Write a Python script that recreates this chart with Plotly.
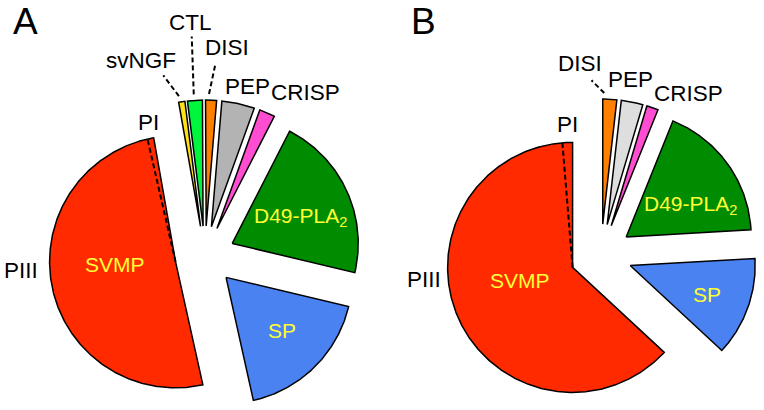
import numpy as np
import plotly.graph_objects as go

# ---------------- data ----------------
cats_A = ["svNGF", "CTL", "DISI", "PEP", "CRISP", "D49-PLA2", "SP", "PIII", "PI"]
vals_A = [0.8, 1.9, 1.4, 4.2, 2.0, 21.2, 17.8, 49.9, 0.8]
fam_A = ["svNGF", "CTL", "DISI", "PEP", "CRISP", "D49-PLA2", "SP", "SVMP", "SVMP"]

cats_B = ["DISI", "PEP", "CRISP", "D49-PLA2", "SP", "PIII", "PI"]
vals_B = [1.8, 2.8, 1.5, 18.0, 12.8, 61.8, 1.3]
fam_B = ["DISI", "PEP", "CRISP", "D49-PLA2", "SP", "SVMP", "SVMP"]

# ---------------- style ----------------
W, H = 764, 410
COL = {"svNGF": "#ffe11a", "CTL": "#00f53d", "DISI": "#ff8000", "PEP": "#b3b3b3",
       "CRISP": "#ff4dd2", "D49-PLA2": "#008c00", "SP": "#4a82f2", "SVMP": "#ff2a00"}
COL_B = dict(COL, PEP="#dedede")
TXT_IN = "#ffff33"
FONT = "Liberation Sans, Arial, Helvetica, sans-serif"

panels = [
    dict(cats=cats_A, vals=vals_A, fam=fam_A, col=COL, cx=205, cy=H - 256, r=126,
         pull=30, start=-10.0, letter="A", letter_xy=(25, H - 21),
         leaders={"svNGF": (0.2, -37, 26), "CTL": (0.45, -2, 58), "DISI": (0.3, 12, 30)},
         lab={"svNGF": (-64, 196), "CTL": (-15, 234), "DISI": (22, 209), "PEP": (42, 170),
              "CRISP": (100, 164), "PI": (-57, 134), "PIII": (-184, -14)},
         inner={"SVMP": (-90, -8), "D49-PLA2": (95, 39), "SP": (77, -74)}),
    dict(cats=cats_B, vals=vals_B, fam=fam_B, col=COL_B, cx=601, cy=H - 255, r=125,
         pull=31, start=0.0, letter="B", letter_xy=(423, H - 21),
         leaders={"DISI": (0.1, -45, 18)},
         lab={"DISI": (-21, 192), "PEP": (29, 176), "CRISP": (87, 162),
              "PI": (-34, 131), "PIII": (-177, -24)},
         inner={"SVMP": (-81, -25), "D49-PLA2": (89, 50), "SP": (106, -39)}),
]


def pt(x0, y0, ang, rad):
    a = np.radians(ang)
    return x0 + rad * np.sin(a), y0 + rad * np.cos(a)


fig = go.Figure()
annotations = []

for p in panels:
    vals = np.array(p["vals"], dtype=float)
    degs = vals / vals.sum() * 360.0
    edges = p["start"] + np.concatenate([[0], np.cumsum(degs)])
    groups = []
    for i, f in enumerate(p["fam"]):
        if groups and groups[-1]["fam"] == f:
            groups[-1]["idx"].append(i)
        else:
            groups.append({"fam": f, "idx": [i]})
    for g in groups:
        a0 = edges[g["idx"][0]]
        a1 = edges[g["idx"][-1] + 1]
        mid = (a0 + a1) / 2
        ax, ay = pt(p["cx"], p["cy"], mid, p["pull"])
        angs = np.linspace(a0, a1, max(int(abs(a1 - a0) * 2), 4))
        xs = [ax] + [pt(ax, ay, a, p["r"])[0] for a in angs] + [ax]
        ys = [ay] + [pt(ax, ay, a, p["r"])[1] for a in angs] + [ay]
        fig.add_trace(go.Scatter(x=xs, y=ys, mode="lines", fill="toself",
                                 fillcolor=p["col"][g["fam"]],
                                 line=dict(color="black", width=1.5),
                                 hoverinfo="skip", showlegend=False))
        for i in g["idx"][1:]:
            bx, by = pt(ax, ay, edges[i], p["r"])
            fig.add_trace(go.Scatter(x=[ax, bx], y=[ay, by], mode="lines",
                                     line=dict(color="black", width=2, dash="5px,3px"),
                                     hoverinfo="skip", showlegend=False))
        for i in g["idx"]:
            c = p["cats"][i]
            if c in p["leaders"]:
                frac, dirn, ln = p["leaders"][c]
                ang = edges[i] + frac * (edges[i + 1] - edges[i])
                sx, sy = pt(ax, ay, ang, p["r"] + 6)
                ex, ey = pt(sx, sy, dirn, ln)
                fig.add_trace(go.Scatter(x=[sx, ex], y=[sy, ey], mode="lines",
                                         line=dict(color="black", width=2, dash="5px,3px"),
                                         hoverinfo="skip", showlegend=False))
    for c, (dx, dy) in p["lab"].items():
        annotations.append(dict(x=p["cx"] + dx, y=p["cy"] + dy, text=c, showarrow=False,
                                xref="x", yref="y", xanchor="center", yanchor="middle",
                                font=dict(family=FONT, size=22.5, color="black")))
    for c, (dx, dy) in p["inner"].items():
        t = "D49-PLA<sub>2</sub>" if c == "D49-PLA2" else c
        annotations.append(dict(x=p["cx"] + dx, y=p["cy"] + dy, text=t, showarrow=False,
                                xref="x", yref="y", xanchor="center", yanchor="middle",
                                font=dict(family=FONT, size=21, color=TXT_IN)))
    annotations.append(dict(x=p["letter_xy"][0], y=p["letter_xy"][1], text=p["letter"],
                            showarrow=False, xref="x", yref="y", xanchor="center",
                            yanchor="middle", font=dict(family=FONT, size=37, color="black")))

fig.update_layout(
    width=W, height=H, margin=dict(l=0, r=0, t=0, b=0),
    paper_bgcolor="white", plot_bgcolor="white",
    xaxis=dict(range=[0, W], visible=False, fixedrange=True),
    yaxis=dict(range=[0, H], visible=False, fixedrange=True),
    annotations=annotations, showlegend=False,
)
fig.write_html("out.html", config={"displayModeBar": False},
               post_script="document.body.style.margin='0px';")
